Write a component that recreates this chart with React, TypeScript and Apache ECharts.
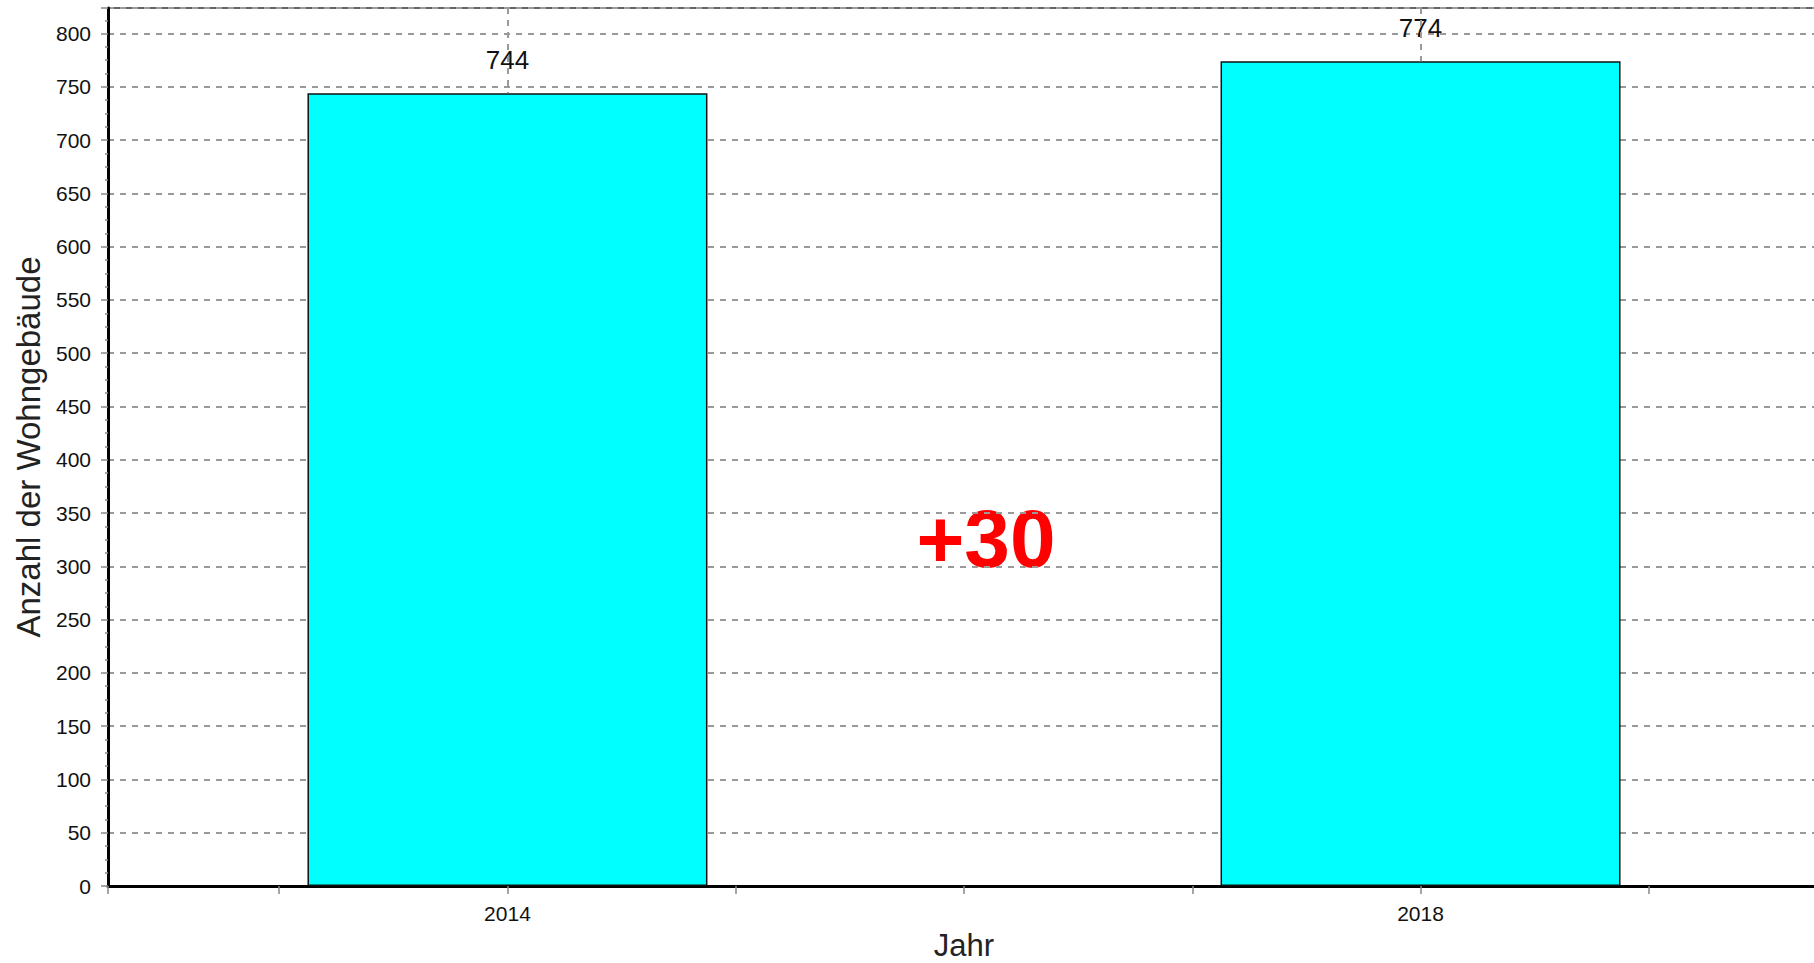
import React, { useEffect, useRef } from "react";
import * as echarts from "echarts";

const years = [2014, 2018];
const buildings = [744, 774];
const xMin = 2012.25;
const xMax = 2019.75;
const yMax = 824;
const yInterval = 50;
const xTitle = "Jahr";
const yTitle = "Anzahl der Wohngebäude";

const FONT = '"Liberation Sans", Arial, sans-serif';

export default function App() {
  const ref = useRef<HTMLDivElement>(null);
  useEffect(() => {
    if (!ref.current) return;
    const chart = echarts.init(ref.current, undefined, { renderer: "svg" });
    const diff = buildings[1] - buildings[0];
    const option: any = {
      animation: false,
      backgroundColor: "#ffffff",
      grid: {
        left: 108,
        top: 8,
        right: 20,
        bottom: 77,
        show: true,
        borderColor: "#333",
        borderWidth: 1.5,
        backgroundColor: "transparent",
        containLabel: false,
        outerBoundsMode: "none",
      },
      xAxis: {
        type: "value",
        min: xMin,
        max: xMax,
        minInterval: 1,
        maxInterval: 1,
        splitNumber: 7,
        name: xTitle,
        nameLocation: "middle",
        nameGap: 44,
        nameTextStyle: { fontFamily: FONT, fontSize: 31, lineHeight: 31, color: "#222" },
        axisLine: { show: true, onZero: false, lineStyle: { color: "#000", width: 3 } },
        axisTick: { show: true, length: 8, lineStyle: { color: "#888", width: 1.5 } },
        axisLabel: {
          fontFamily: FONT,
          fontSize: 21,
          color: "#111",
          margin: 17,
          showMinLabel: true,
          showMaxLabel: true,
          formatter: (v: number) => (years.indexOf(Math.round(v * 100) / 100) >= 0 ? String(v) : ""),
        },
        splitLine: { show: false },
      },
      yAxis: {
        type: "value",
        min: 0,
        max: yMax,
        interval: yInterval,
        name: yTitle,
        nameLocation: "middle",
        nameGap: 60,
        nameTextStyle: { fontFamily: FONT, fontSize: 33, color: "#222" },
        axisLine: { show: true, lineStyle: { color: "#000", width: 3 } },
        axisTick: { show: true, length: 7, lineStyle: { color: "#888", width: 1.5 } },
        minorTick: { show: true, splitNumber: 4, length: 3, lineStyle: { color: "#888", width: 1.5 } },
        axisLabel: {
          fontFamily: FONT,
          fontSize: 21,
          color: "#111",
          margin: 17,
          showMaxLabel: false,
          formatter: (v: number) => (v % yInterval === 0 ? String(v) : ""),
        },
        splitLine: {
          show: true,
          lineStyle: { color: "#9a9a9a", width: 2, type: [6, 6] },
        },
      },
      series: [
        {
          type: "bar",
          data: years.map((y, i) => [y, buildings[i]]),
          barWidth: 400,
          itemStyle: { color: "#00ffff", borderColor: "#111", borderWidth: 1.5 },
          label: {
            show: true,
            position: "top",
            distance: 20,
            fontFamily: FONT,
            fontSize: 26,
            color: "#111",
          },
          markLine: {
            silent: true,
            symbol: ["none", "none"],
            label: { show: false },
            lineStyle: { color: "#9a9a9a", width: 2, type: [6, 6] },
            data: years.map((y, i) => [
              { coord: [y, yMax] },
              { coord: [y, buildings[i]] },
            ]),
          },
        },
      ],
      graphic: [
        {
          type: "text",
          x: 986,
          y: 538,
          style: {
            text: (diff >= 0 ? "+" : "") + diff,
            fill: "#ff0000",
            fontFamily: FONT,
            fontWeight: "bold",
            fontSize: 82,
            align: "center",
            verticalAlign: "middle",
          },
        },
      ],
    };
    chart.setOption(option);
    return () => chart.dispose();
  }, []);
  return (
    <div
      style={{
        position: "fixed",
        left: 0,
        top: 0,
        width: 1814,
        height: 963,
        overflow: "hidden",
        background: "#fff",
      }}
    >
      <div ref={ref} style={{ width: 1840, height: 963 }} />
    </div>
  );
}
